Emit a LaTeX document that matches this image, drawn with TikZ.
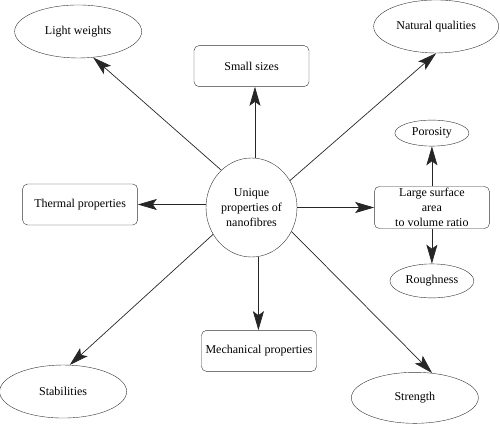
\documentclass[tikz,border=0pt]{standalone}
\usepackage{fontspec}
\setmainfont{Liberation Serif}
\usepackage{xcolor}
\usetikzlibrary{shapes.geometric, arrows.meta, positioning}

\begin{document}
\begin{tikzpicture}[
    box/.style={rectangle, draw=black!80, rounded corners=5pt, minimum width=115pt, minimum height=41pt, align=center, font=\fontsize{12}{15}\selectfont},
    oval/.style={ellipse, draw=black!80, minimum width=127pt, minimum height=53pt, align=center, font=\fontsize{12}{15}\selectfont},
    arrow/.style={-{Stealth[length=19pt,width=11pt,inset=4pt]}, draw=black!85, line width=0.7pt}
]
    \useasboundingbox (0,0) rectangle (500pt,-425pt);

    \node[oval, minimum width=91pt, minimum height=99pt, inner sep=0pt] (centre) at (251.5pt,-207.5pt) {Unique\\properties of\\nanofibres};

    % Boxes round the centre
    \node[box, above=71pt of centre] (small) {Small sizes};
    \node[box, below=73pt of centre, xshift=7.5pt] (mech) {Mechanical properties};
    \node[box, left=68pt of centre, yshift=3pt] (thermal) {Thermal properties};
    \node[box, right=77pt of centre, inner sep=0pt, minimum height=42pt] (surface) {Large surface\\area\\to volume ratio};

    % Ovals
    \node[oval, above left=122pt and 96pt of centre] (light) {Light weights};
    \node[oval, above right=127pt and 108pt of centre, minimum width=125pt] (natural) {Natural qualities};
    \node[oval, below left=130pt and 111pt of centre] (stab) {Stabilities};
    \node[oval, below right=137pt and 86pt of centre, minimum height=51pt] (strength) {Strength};
    \node[oval, above=40pt of surface, minimum width=74pt, minimum height=26pt] (porosity) {Porosity};
    \node[oval, below=35pt of surface, minimum width=82pt, minimum height=34pt] (rough) {Roughness};

    \draw[arrow] (centre.86) -- (centre.86 |- small.south);
    \draw[arrow] (centre.-82) -- (centre.-82 |- mech.north);
    \draw[arrow] (centre.west |- thermal.east) -- (thermal.east);
    \draw[arrow] (centre.east |- surface.west) -- (surface.west);
    \draw[arrow] (centre.129) -- (light.-60);
    \draw[arrow] (centre.35.5) -- (natural.south);
    \draw[arrow] (centre.215) -- (stab.76);
    \draw[arrow] (centre.-31) -- (strength.55.5);
    \draw[arrow] (surface.north) -- (porosity.south);
    \draw[arrow] (surface.south) -- (rough.north);
\end{tikzpicture}
\end{document}
